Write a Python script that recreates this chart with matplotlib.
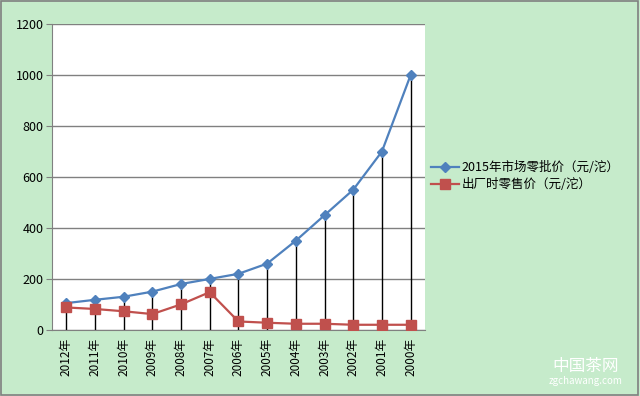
import matplotlib
matplotlib.use("Agg")
import matplotlib.pyplot as plt
import numpy as np

plt.rcParams['font.family'] = ['Noto Sans CJK SC', 'DejaVu Sans']

categories = ["2012年", "2011年", "2010年", "2009年", "2008年", "2007年", "2006年",
              "2005年", "2004年", "2003年", "2002年", "2001年", "2000年"]
market_price = [105, 118, 130, 150, 180, 200, 220, 260, 350, 450, 550, 700, 1000]
factory_price = [88, 82, 73, 62, 100, 148, 33, 28, 24, 24, 20, 20, 20]
series_names = ["2015年市场零批价（元/沱）", "出厂时零售价（元/沱）"]

bg = "#C6EBCB"
fig = plt.figure(figsize=(6.4, 3.96), dpi=100, facecolor=bg)
ax = fig.add_axes([0.081, 0.167, 0.583, 0.772])
ax.set_facecolor("white")

x = np.arange(len(categories))
top = np.maximum(market_price, factory_price)
ax.vlines(x, 0, top, color="black", lw=1.0, zorder=2)

ax.plot(x, market_price, color="#4F81BD", marker="D", ms=5, lw=1.6, label=series_names[0], zorder=3)
ax.plot(x, factory_price, color="#C0504D", marker="s", ms=7, lw=1.6, label=series_names[1], zorder=3)

ax.set_xlim(-0.5, len(categories) - 0.5)
ax.set_ylim(0, 1200)
ax.set_yticks(range(0, 1201, 200))
ax.yaxis.grid(True, color="#808080", lw=1)
ax.set_axisbelow(True)
ax.set_xticks(x)
ax.set_xticklabels(categories, rotation=90, fontsize=8.5)
ax.tick_params(axis='y', labelsize=9, length=4, color="#808080", pad=2)
ax.tick_params(axis='x', length=0, pad=6)
for s in ["top", "right"]:
    ax.spines[s].set_visible(False)
for s in ["left", "bottom"]:
    ax.spines[s].set_color("#808080")

leg = fig.legend(loc="upper left", bbox_to_anchor=(0.665, 0.605), frameon=False,
                 fontsize=9, handlelength=2.3, handletextpad=0.2, labelspacing=0.3,
                 borderaxespad=0)

# outer border
fig.patches.append(plt.Rectangle((0.002, 0.003), 0.995, 0.994, transform=fig.transFigure,
                                 fill=False, edgecolor="#808080", lw=1.2))

# watermark
fig.text(0.915, 0.075, "中国茶网", color="white", fontsize=12, ha="center", va="center")
fig.text(0.915, 0.038, "zgchawang.com", color="white", fontsize=7, ha="center", va="center")

fig.savefig("out.png", dpi=100, facecolor=bg)
